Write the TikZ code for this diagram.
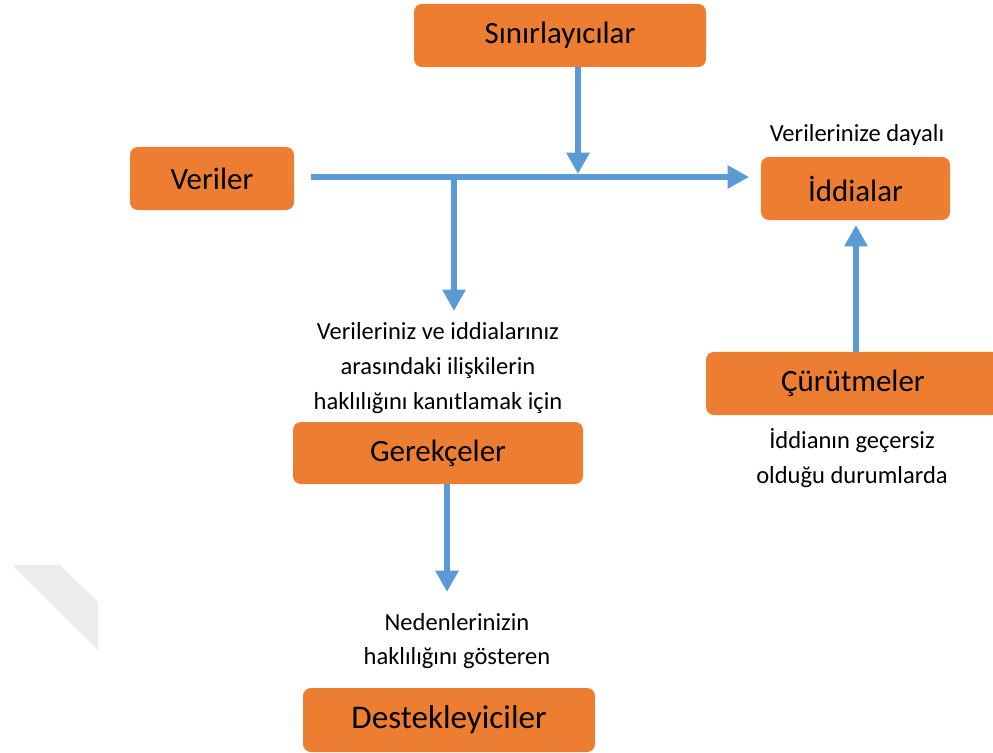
\documentclass[tikz,border=0pt]{standalone}
\usepackage{fontspec}
\setmainfont{Carlito}
\usetikzlibrary{arrows.meta}
\definecolor{boxorange}{HTML}{ED7D31}
\definecolor{arrowblue}{HTML}{5B9BD5}
\definecolor{wmgray}{RGB}{236,236,236}
\tikzset{
  box/.style={fill=boxorange, rounded corners=6pt, inner sep=0pt, text=black,
              font=\fontsize{23.2}{28}\selectfont},
  lbl/.style={align=center, inner sep=0pt, text=black,
              font=\fontsize{18.4}{26.5}\selectfont},
  flow/.style={draw=arrowblue, line width=4.8pt,
               -{Triangle[length=16pt,width=16.5pt]}},
}
\begin{document}
\begin{tikzpicture}[x=0.75pt,y=-0.75pt]
\useasboundingbox (0,0) rectangle (993,753);
% faint watermark shape
\fill[wmgray] (12,565) -- (60,565) -- (98,602) -- (98,650) -- cycle;

% boxes
\node[box, minimum width=219pt, minimum height=47.3pt] (sinir) at (560,35.5) {Sınırlayıcılar};
\node[box, minimum width=123pt, minimum height=47.3pt] (veri) at (212,178.5) {Veriler};
\node[box, minimum width=141.8pt, minimum height=47.3pt] (iddia) at (855.5,188.5) {İddialar};
\node[box, minimum width=220.5pt, minimum height=47.3pt] (curut) at (853,383.5) {Çürütmeler};
\node[box, minimum width=217.5pt, minimum height=46.5pt] (gerek) at (438,453) {Gerekçeler};
\node[box, minimum width=219pt, minimum height=48pt,
      font=\fontsize{24.8}{30}\selectfont] (destek) at (449,720) {Destekleyiciler};

% labels
\node[lbl] (lbliddia) at (857,135) {Verilerinize dayalı};
\node[lbl] (lblgerek) at (438,368) {Verileriniz ve iddialarınız\\arasındaki ilişkilerin\\haklılığını kanıtlamak için};
\node[lbl] (lblcurut) at (852,458) {İddianın geçersiz\\olduğu durumlarda};
\node[lbl, font=\fontsize{18.4}{25}\selectfont] (lbldestek) at (457,641) {Nedenlerinizin\\haklılığını gösteren};

% connector points
\coordinate (hs) at (311,177);
\coordinate (he) at (749,177);
\coordinate (jsin) at (578,174);
\coordinate (jbr) at (454,177);
\coordinate (brend) at (454,311);
\coordinate (gend) at (447,592);
\coordinate (cend) at (856,225);

% connectors
\draw[flow] (hs) -- (he);
\draw[flow] (sinir.south -| jsin) -- (jsin);
\draw[flow] (jbr) -- (brend);
\draw[flow] (gerek.south -| gend) -- (gend);
\draw[flow] (curut.north -| cend) -- (cend);
\end{tikzpicture}
\end{document}
